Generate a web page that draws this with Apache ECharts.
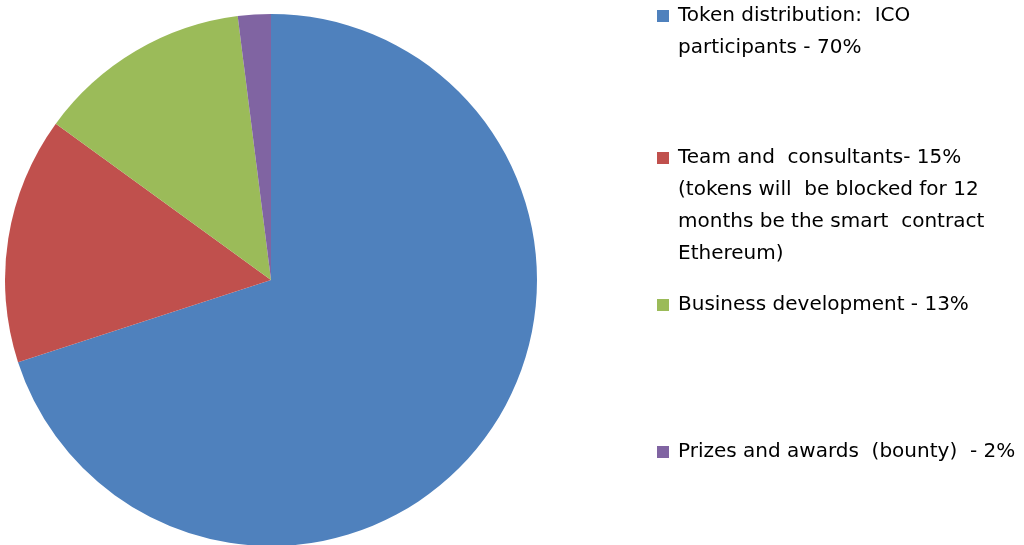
<!DOCTYPE html>
<html>
<head>
<meta charset="utf-8">
<script src="https://cdn.jsdelivr.net/npm/echarts@6/dist/echarts.min.js"></script>
<style>
html, body { margin: 0; padding: 0; background: #fff; }
#main { width: 1024px; height: 545px; }
</style>
</head>
<body>
<div id="main"></div>
<script>
// slices, clockwise from 12 o'clock
var names = ['ico', 'team', 'business', 'prizes'];
var values = [70, 15, 13, 2];
var colors = ['#4F81BD', '#C0504D', '#9BBB59', '#8064A2'];
var labels = [
	'Token distribution:  ICO\nparticipants - 70%',
	'Team and  consultants- 15%\n(tokens will  be blocked for 12\nmonths be the smart  contract\nEthereum)',
	'Business development - 13%',
	'Prizes and awards  (bounty)  - 2%'
];
var legendTop = [0, 142, 289, 436];

var LINE_H = 32;

var chart = echarts.init(document.getElementById('main'));

var pieData = [];
var legends = [];
for (var i = 0; i < names.length; i++) {
	pieData.push({ name: names[i], value: values[i], itemStyle: { color: colors[i] } });

	// icon path as tall as the whole text block, square sits at the first line
	var h = labels[i].split('\n').length * LINE_H;
	var icon = 'path://M0,0h0.01M16,' + h + 'h-0.01M0,10h12v12h-12Z';
	legends.push({
		data: [names[i]],
		left: 657,
		top: legendTop[i],
		padding: 0,
		icon: icon,
		itemWidth: 16,
		itemHeight: h,
		selectedMode: false,
		formatter: (function(txt) { return function() { return txt; }; })(labels[i]),
		textStyle: {
			fontFamily: 'DejaVu Sans',
			fontSize: 20,
			color: '#000',
			lineHeight: LINE_H
		}
	});
}

var option = {
	backgroundColor: '#fff',
	animation: false,
	legend: legends,
	series: [{
		type: 'pie',
		center: [271, 280],
		radius: [0, 266],
		startAngle: 90,
		clockwise: true,
		label: { show: false },
		labelLine: { show: false },
		emphasis: { disabled: true },
		data: pieData
	}]
};
chart.setOption(option);
</script>
</body>
</html>
